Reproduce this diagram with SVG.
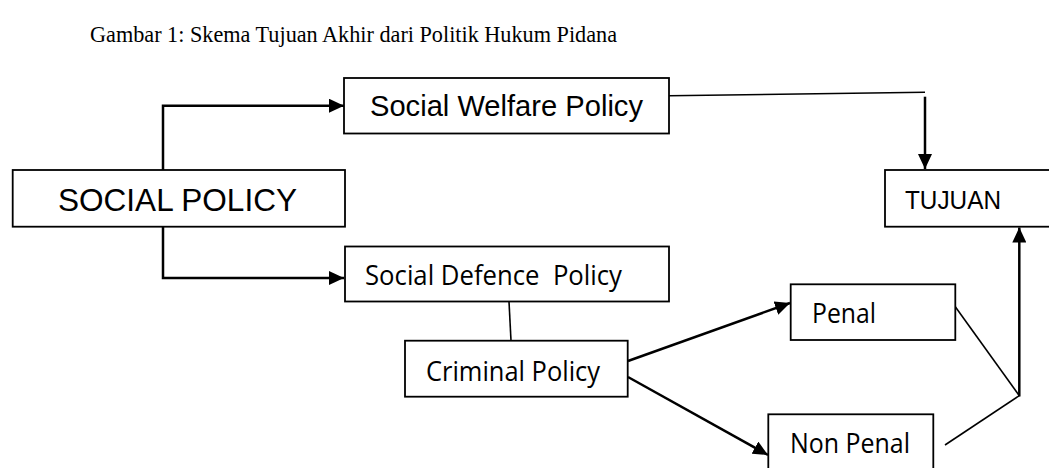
<svg xmlns="http://www.w3.org/2000/svg" width="1049" height="468" viewBox="0 0 1049 468">
<style>
.box{fill:#fff;stroke:#000;stroke-width:1.8}
.ar{fill:none;stroke:#000;stroke-width:2.5}
.ln{fill:none;stroke:#000;stroke-width:1.6}
.a{font-family:"Liberation Sans",Arial,sans-serif;fill:#000}
.c{font-family:"Open Sans","Noto Sans",sans-serif;fill:#000;white-space:pre}
.t{font-family:"Liberation Serif","Times New Roman",serif;fill:#000}
</style>
<defs>
<marker id="ah" markerUnits="userSpaceOnUse" markerWidth="16" markerHeight="14" refX="15" refY="7" orient="auto" viewBox="0 0 16 14">
<path d="M0,0 L15,7 L0,14 z" fill="#000"/>
</marker>
</defs>
<rect width="1049" height="468" fill="#fff"/>
<text class="t" x="90" y="42" font-size="22.5" textLength="527" lengthAdjust="spacingAndGlyphs">Gambar 1: Skema Tujuan Akhir dari Politik Hukum Pidana</text>
<g id="connectors">
<polyline class="ar" points="163,170 163,105.7 344,105.7" marker-end="url(#ah)"/>
<polyline class="ar" points="163,227 163,278 344,278" marker-end="url(#ah)"/>
<line class="ln" x1="669" y1="95.7" x2="925" y2="92.3"/>
<line class="ar" x1="925" y1="96.7" x2="925" y2="169" marker-end="url(#ah)"/>
<line class="ln" x1="509" y1="301.5" x2="511" y2="340.7"/>
<line class="ar" x1="628" y1="361" x2="790" y2="303" marker-end="url(#ah)"/>
<line class="ar" x1="628" y1="377" x2="768" y2="455" marker-end="url(#ah)"/>
<line class="ln" x1="955.3" y1="306.7" x2="1019.3" y2="395.7"/>
<line class="ln" x1="945" y1="445" x2="1019.3" y2="395.7"/>
<line class="ar" x1="1019.3" y1="396.5" x2="1019.3" y2="227.5" marker-end="url(#ah)"/>
</g>
<g id="social-policy">
<rect class="box" x="12.7" y="170" width="332.3" height="56.7"/>
<text class="a" x="58" y="211" font-size="31" textLength="239" lengthAdjust="spacingAndGlyphs">SOCIAL POLICY</text>
</g>
<g id="social-welfare">
<rect class="box" x="344" y="78" width="325" height="55.5"/>
<text class="a" x="370" y="115.5" font-size="29" textLength="273" lengthAdjust="spacingAndGlyphs">Social Welfare Policy</text>
</g>
<g id="tujuan">
<rect class="box" x="885" y="170" width="180" height="56.7"/>
<text class="a" x="905" y="209" font-size="25" textLength="96" lengthAdjust="spacingAndGlyphs">TUJUAN</text>
</g>
<g id="social-defence">
<rect class="box" x="345" y="246.5" width="324" height="55"/>
<text class="c" x="365" y="285" font-size="27" textLength="257" lengthAdjust="spacingAndGlyphs">Social Defence  Policy</text>
</g>
<g id="criminal-policy">
<rect class="box" x="405" y="340.7" width="222.7" height="56"/>
<text class="c" x="426" y="381" font-size="27" textLength="174" lengthAdjust="spacingAndGlyphs">Criminal Policy</text>
</g>
<g id="penal">
<rect class="box" x="790.7" y="284.3" width="164.6" height="55.7"/>
<text class="c" x="812" y="322.7" font-size="27" textLength="64" lengthAdjust="spacingAndGlyphs">Penal</text>
</g>
<g id="non-penal">
<rect class="box" x="768.3" y="414.3" width="165" height="70"/>
<text class="c" x="790" y="452.7" font-size="27" textLength="120" lengthAdjust="spacingAndGlyphs">Non Penal</text>
</g>
</svg>
